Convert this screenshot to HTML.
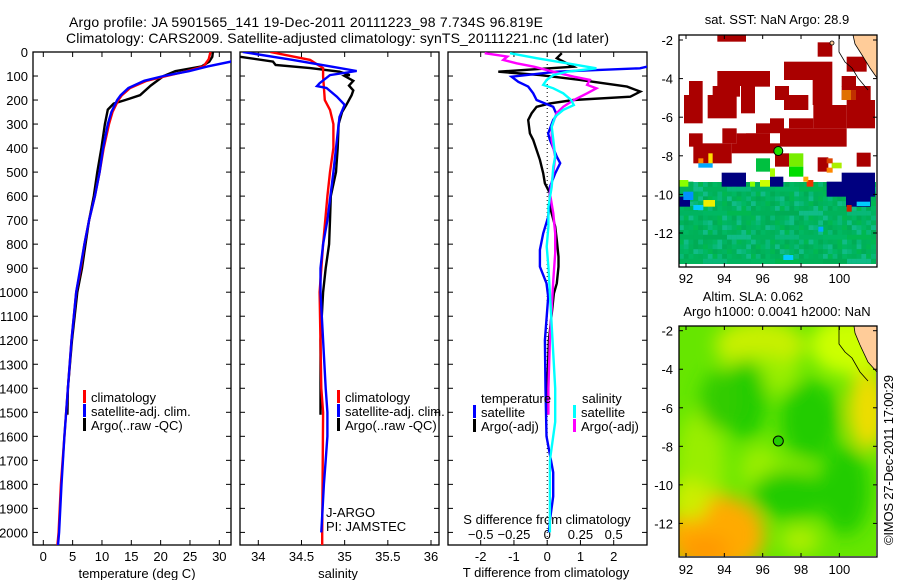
<!DOCTYPE html>
<html><head><meta charset="utf-8"><style>
html,body{margin:0;padding:0;background:#fff}
svg{display:block;font-family:"Liberation Sans",sans-serif}
text{font-size:13px;fill:#000}
</style></head><body>
<svg id="fig" width="900" height="580" viewBox="0 0 900 580" xmlns="http://www.w3.org/2000/svg">
<defs>
<clipPath id="c1"><rect x="33" y="52" width="198" height="493"/></clipPath>
<clipPath id="c2"><rect x="240" y="52" width="199" height="493"/></clipPath>
<clipPath id="c3"><rect x="448" y="52" width="199" height="493"/></clipPath>
<clipPath id="cm2"><rect x="679" y="326" width="197" height="230"/></clipPath>
<filter id="blur" x="-30%" y="-30%" width="160%" height="160%"><feGaussianBlur stdDeviation="9"/></filter>
</defs>
<text x="69" y="27" textLength="474" style="font-size:14px">Argo profile: JA 5901565_141 19-Dec-2011 20111223_98 7.734S 96.819E</text>
<text x="66" y="43" textLength="543" style="font-size:14px">Climatology: CARS2009. Satellite-adjusted climatology: synTS_20111221.nc (1d later)</text>
<g id="g1"></g>
<g id="g2"></g>
<g id="g3"></g>
<g id="gm1"></g>
<g id="gm2"></g>
<text x="0" y="0" transform="translate(893,545) rotate(-90)" textLength="170">©IMOS 27-Dec-2011 17:00:29</text>
</svg>
<script>
// ---- data ----
const depthTicks=[0,100,200,300,400,500,600,700,800,900,1000,1100,1200,1300,1400,1500,1600,1700,1800,1900,2000];
const tempTicks=[0,5,10,15,20,25,30];
const salTicks=[34,34.5,35,35.5,36];
const tdiffTicks=[-2,-1,0,1,2];
const sdiffTicks=[-0.5,-0.25,0,0.25,0.5];
const latTicks=[-2,-4,-6,-8,-10,-12];
const lonTicks=[92,94,96,98,100];

const climTDepth=[0,30,60,80,100,120,150,180,200,250,300,400,500,600,700,800,900,1000,1200,1400,1600,1800,2000,2054];
const climT=[28.5,28.2,27.3,24.5,21,17.6,14.8,13.4,12.8,11.8,11.2,10.3,9.6,8.8,7.8,7.0,6.4,5.6,4.8,4.2,3.6,3.0,2.6,2.4];
const satTDepth=[0,40,60,80,100,120,150,180,200,250,300,400,500,600,700,800,900,1000,1200,1400,1600,1800,2000,2054];
const satT=[33,32,28,24.8,20.5,17.2,14.5,13.2,12.6,11.6,11.0,10.2,9.6,8.8,7.8,7.0,6.3,5.6,4.8,4.2,3.6,3.1,2.7,2.5];
const argoTDepth=[0,20,40,60,80,100,140,180,200,215,240,300,400,500,600,700,800,900,1000,1200,1400,1510];
const argoT=[28.9,28.8,28.3,27,22.5,20.5,18.3,16.5,14,12,11,10.5,9.9,9.2,8.6,7.8,7.2,6.6,5.8,4.9,4.2,4.1];

const climSDepth=[0,33,67,102,200,241,300,400,500,600,800,1000,1400,1500,2000,2054];
const climS=[34.14,34.6,34.75,34.75,34.77,34.83,34.87,34.87,34.83,34.8,34.75,34.71,34.73,34.75,34.74,34.74];
const satSDepth=[0,33,62,79,96,130,142,150,186,220,270,400,500,700,800,900,1000,1400,1500,1600,1700,1800,2000];
const satS=[33.82,34.4,34.87,35.14,34.83,34.71,34.68,34.79,34.91,35.0,34.94,34.9,34.87,34.8,34.75,34.72,34.72,34.78,34.8,34.8,34.78,34.76,34.73];
const argoSDepth=[20,40,54,67,82,96,100,120,140,160,180,200,220,250,300,400,500,600,700,800,900,1000,1200,1400,1510];
const argoS=[33.79,34.17,34.2,34.6,34.94,35.06,35.0,35.1,35.05,35.1,35.08,35.05,35.02,34.97,34.93,34.92,34.9,34.84,34.83,34.82,34.78,34.75,34.72,34.72,34.72];

const satTdDepth=[0,40,61,68,82,103,124,144,172,200,228,262,283,339,366,436,463,505,561,616,686,755,824,894,963,1019,1200,1400,1600,1750,1850,1950,2000];
const satTd=[4,3.8,3.0,2.79,0.29,-1.07,-0.87,-0.57,-0.42,-0.32,0.18,0.29,0.18,0.03,0.08,0.29,0.39,0.24,0.08,0.08,0.03,-0.12,-0.22,-0.22,-0.02,0.03,-0.07,-0.05,-0.02,0.18,0.18,0.08,0.05];
const argoTdDepth=[5,26,47,61,82,96,116,144,165,186,200,214,228,255,283,339,366,408,449,505,547,588,644,727,783,852,894,963,1005,1200,1400,1510];
const argoTd=[0.44,0.29,0.59,0.79,-1.47,-0.22,0.99,2.4,2.8,2.5,0.79,0.08,-0.32,-0.47,-0.57,-0.52,-0.42,-0.32,-0.22,-0.12,-0.07,0.08,0.08,0.24,0.29,0.34,0.34,0.29,0.2,0.05,0.0,0.0];
const satSdDepth=[5,26,47,68,82,96,116,137,151,172,200,221,241,269,311,366,436,477,561,644,727,810,894,1005,1400,1540,1700,2000];
const satSd=[-0.28,-0.08,0.15,0.37,0.15,0.046,-0.004,-0.03,0.046,0.12,0.18,0.2,0.12,0.06,0.034,0.046,0.06,0.046,0.034,0.009,0.009,-0.004,0.009,0.02,0.06,0.06,0.02,0.02];
const argoSdDepth=[5,19,33,47,61,82,103,116,137,151,172,200,228,255,311,366,436,505,588,672,755,838,949,1200,1400,1510];
const argoSd=[-0.47,-0.30,-0.33,-0.23,-0.10,0.046,0.2,0.32,0.30,0.37,0.30,0.2,0.12,0.07,0.034,0.034,0.06,0.046,0.02,0.046,0.06,0.06,0.046,0.02,0.009,0.009];

// ---- scales ----
const yD=d=>52+0.2402*d;
const xT=v=>43.3+5.867*v;
const xS=v=>258.3+86.35*(v-34);
const xTd=v=>547.2+33.25*v;
const xSd=v=>547.2+133*v;
const NS='http://www.w3.org/2000/svg';
function mk(tag,attrs,parent){const e=document.createElementNS(NS,tag);for(const k in attrs)e.setAttribute(k,attrs[k]);parent.appendChild(e);return e;}
function txt(parent,x,y,s,anchor){const t=mk('text',{x:x,y:y,'text-anchor':anchor||'start'},parent);t.textContent=s;return t;}

function frame(g,x0,x1,y0,y1){
  const r=mk('rect',{x:x0,y:y0,width:x1-x0,height:y1-y0,fill:'none',stroke:'#000','stroke-width':1.3},g);
  
  
}
function depthAxis(g,x0,x1,labels){
  depthTicks.forEach(d=>{
    const y=yD(d);
    mk('line',{x1:x0,x2:x0+5,y1:y,y2:y,stroke:'#000'},g);
    mk('line',{x1:x1-5,x2:x1,y1:y,y2:y,stroke:'#000'},g);
    if(labels){const t=txt(g,28,y+5,String(d),'end');
      
      }
  });
}
function xAxis(g,ticks,sc,yLab,fmt){
  ticks.forEach(v=>{
    const x=sc(v);
    mk('line',{x1:x,x2:x,y1:545,y2:540,stroke:'#000'},g);
    mk('line',{x1:x,x2:x,y1:52,y2:57,stroke:'#000'},g);
    const t=txt(g,x,yLab,fmt?fmt(v):String(v),'middle');
    
    
  });
}
function series(g,dep,vals,sc,color,name,clip,w){
  const pts=dep.map((d,i)=>sc(vals[i]).toFixed(1)+','+yD(d).toFixed(1)).join(' ');
  const p=mk('polyline',{points:pts,fill:'none',stroke:color,'stroke-width':w||2.4,'stroke-linejoin':'miter','clip-path':'url(#'+clip+')'},g);
  
  
}
function legend(g,x,y,color,label){
  mk('rect',{x:x,y:y-7,width:3,height:13,fill:color},g);
  const t=txt(g,x+8,y+5,label);
  
  
}

// ---- panel 1 ----
const g1=document.getElementById('g1');
frame(g1,33,231,52,545);depthAxis(g1,33,231,true);
xAxis(g1,tempTicks,xT,561);
let t=txt(g1,137,578,'temperature (deg C)','middle');


series(g1,argoTDepth,argoT,xT,'#000','argo-temperature-line','c1');
series(g1,climTDepth,climT,xT,'#f00','climatology-temperature-line','c1');
series(g1,satTDepth,satT,xT,'#00f','satellite-temperature-line','c1');
legend(g1,83,397,'#f00','climatology');legend(g1,83,411,'#00f','satellite-adj. clim.');legend(g1,83,425,'#000','Argo(..raw -QC)');

// ---- panel 2 ----
const g2=document.getElementById('g2');
frame(g2,240,439,52,545);depthAxis(g2,240,439,false);
xAxis(g2,salTicks,xS,561);
t=txt(g2,338,578,'salinity','middle');


series(g2,argoSDepth,argoS,xS,'#000','argo-salinity-line','c2');
series(g2,climSDepth,climS,xS,'#f00','climatology-salinity-line','c2');
series(g2,satSDepth,satS,xS,'#00f','satellite-salinity-line','c2');
legend(g2,337,397,'#f00','climatology');legend(g2,337,411,'#00f','satellite-adj. clim.');legend(g2,337,425,'#000','Argo(..raw -QC)');
t=txt(g2,326,517,'J-ARGO');
t=txt(g2,326,531,'PI: JAMSTEC');

// ---- panel 3 ----
const g3=document.getElementById('g3');
frame(g3,448,647,52,545);depthAxis(g3,448,647,false);
xAxis(g3,tdiffTicks,xTd,561);
sdiffTicks.forEach(v=>{const tt=txt(g3,xSd(v),539,String(v).replace('-','−'),'middle');
  
  });
t=txt(g3,547,524,'S difference from climatology','middle');
t=txt(g3,546,577,'T difference from climatology','middle');
mk('line',{x1:xTd(0),x2:xTd(0),y1:52,y2:545,stroke:'#000','stroke-dasharray':'1,3'},g3);
series(g3,argoTdDepth,argoTd,xTd,'#000','argo-temp-diff-line','c3');
series(g3,satTdDepth,satTd,xTd,'#00f','satellite-temp-diff-line','c3');
series(g3,argoSdDepth,argoSd,xSd,'#f0f','argo-sal-diff-line','c3');
series(g3,satSdDepth,satSd,xSd,'#0ff','satellite-sal-diff-line','c3');
t=txt(g3,481,403,'temperature');
t=txt(g3,582,403,'salinity');
legend(g3,473,412,'#00f','satellite');legend(g3,473,426,'#000','Argo(-adj)');
legend(g3,573,412,'#0ff','satellite');legend(g3,573,426,'#f0f','Argo(-adj)');

// ---- maps ----
function mapAxes(g,x0,x1,y0,y1,lat2y,lon2x,labY){
  latTicks.forEach(v=>{const y=lat2y(v);
    mk('line',{x1:x0,x2:x0+4,y1:y,y2:y,stroke:'#000'},g);mk('line',{x1:x1-4,x2:x1,y1:y,y2:y,stroke:'#000'},g);
    const tt=txt(g,673,y+5,String(v),'end');
    
    });
  lonTicks.forEach(v=>{const x=lon2x(v);
    mk('line',{x1:x,x2:x,y1:y1,y2:y1-4,stroke:'#000'},g);mk('line',{x1:x,x2:x,y1:y0,y2:y0+4,stroke:'#000'},g);
    const tt=txt(g,x,labY,String(v),'middle');
    
    });
  frame(g,x0,x1,y0,y1);
}
const lon2x=v=>686+19.17*(v-92);
// map1
const gm1=document.getElementById('gm1');
t=txt(gm1,777,24,'sat. SST: NaN Argo: 28.9','middle');
const Z=(zx,zy)=>[640+zx/3,zy/3];
function zr(g,a,b,c,d,col){const p=Z(a,b),q=Z(c,d);mk('rect',{x:p[0],y:p[1],width:q[0]-p[0],height:q[1]-p[1],fill:col},g);}
// green field cells
const pal=['#00b35a','#00b862','#00ac55','#08b878','#00b850','#10bc88','#00b460','#00b158'];
mk('rect',{x:679,y:182,width:197,height:82,fill:'#00b35e'},gm1);
for(let i=0;i<41;i++)for(let j=0;j<17;j++){
  const c=pal[(i*7+j*13+(i*j)%5)%pal.length];
  mk('rect',{x:679+i*4.8,y:182+j*4.8,width:4.9,height:4.9,fill:c},gm1);
}
[[118,545,160,605,'#00b35a'],[118,590,150,620,'#000080'],[245,518,318,560,'#000080'],[605,518,705,560,'#000080'],[560,545,705,590,'#000080'],[618,580,692,620,'#000080'],[390,530,430,560,'#000080'],[130,575,160,600,'#0090ff'],[190,600,225,620,'#eeee00'],[160,615,190,630,'#00ccff'],[650,605,690,618,'#00ccff'],[620,615,635,635,'#cc2200'],[330,545,345,560,'#88ff00'],[360,540,390,560,'#ccff00'],[500,540,520,560,'#ee3300'],[490,530,505,545,'#ffaa00'],[118,540,145,560,'#88ff00'],[535,680,550,695,'#00aaff'],[430,765,460,780,'#00ccff']].forEach(r=>zr(gm1,r[0],r[1],r[2],r[3],r[4]));
// red blocks
const R='#aa0000';
[[232,105,318,125],[533,127,577,170],[620,170,680,215],[432,185,577,240],[518,240,577,315],[232,213,390,258],[218,258,300,290],[147,243,188,285],[132,285,188,370],[203,285,290,355],[303,258,345,340],[345,240,390,260],[405,258,447,300],[432,285,505,330],[605,228,648,260],[605,258,692,300],[620,300,705,385],[520,315,620,385],[348,370,432,400],[390,355,432,372],[447,355,520,385],[420,385,620,440],[247,385,290,430],[290,400,390,440],[147,400,188,440],[160,430,275,490],[275,430,420,460],[405,460,447,500],[650,458,692,500],[533,472,565,515],[318,400,390,430]].forEach(r=>zr(gm1,r[0],r[1],r[2],r[3],R));
zr(gm1,390,400,420,415,'#fff');
zr(gm1,605,270,633,300,'#e07000');zr(gm1,633,270,648,300,'#c03000');
zr(gm1,175,475,190,490,'#ff8800');zr(gm1,205,460,218,490,'#ffdd00');zr(gm1,175,490,218,503,'#00aaff');
[[348,475,390,515,'#00c040'],[447,460,490,500,'#77ee00'],[447,500,490,530,'#00dd00'],[575,488,605,505,'#aaee00'],[560,475,578,490,'#dd4400'],[560,503,578,518,'#ff8800'],[390,505,405,530,'#aaff00']].forEach(r=>zr(gm1,r[0],r[1],r[2],r[3],r[4]));
mk('polygon',{points:'853,35 877,35 877,78 870,68 862,55 855,44',fill:'#ffcc99',stroke:'#000','stroke-width':0.8},gm1);
mk('polyline',{points:'839,35 839,52 845,62 852,68 858,78 868,90',fill:'none',stroke:'#000','stroke-width':0.8},gm1);
mk('circle',{cx:832,cy:43,r:2,fill:'#ffcc99',stroke:'#000','stroke-width':0.8},gm1);
let c=mk('circle',{cx:778.3,cy:151,r:4.5,fill:'#22dd00',stroke:'#000','stroke-width':1},gm1);


mapAxes(gm1,679,877,35,267,v=>40+19.3*(-2-v),lon2x,283);
// map2
const gm2=document.getElementById('gm2');
t=txt(gm2,753,301,'Altim. SLA: 0.062','middle');
t=txt(gm2,777,316,'Argo h1000: 0.0041 h2000: NaN','middle');
const cg=mk('g',{'clip-path':'url(#cm2)'},gm2);
mk('rect',{x:679,y:326,width:198,height:231,fill:'#66e600'},cg);
const bg=mk('g',{filter:'url(#blur)'},cg);
[[760,345,45,25,'#c8f000'],[850,345,40,30,'#ccff00'],[868,410,20,40,'#eedd00'],[760,375,40,20,'#99ee00'],[760,470,20,25,'#99ee00'],[795,490,25,30,'#99ee00'],[700,470,25,60,'#99ee00'],[715,535,50,40,'#ffaa00'],[705,550,25,15,'#ff9900'],[690,500,20,20,'#ccee00'],[840,480,15,15,'#99ee00'],[800,540,20,15,'#aaee00']].forEach(e=>mk('ellipse',{cx:e[0],cy:e[1],rx:e[2],ry:e[3],fill:e[4]},bg));
[[745,400,22,40,'#22cc00'],[810,420,30,40,'#22cc00'],[790,495,40,25,'#22cc00'],[845,490,25,45,'#22cc00'],[720,400,20,30,'#33cc00']].forEach(e=>mk('ellipse',{cx:e[0],cy:e[1],rx:e[2],ry:e[3],fill:e[4]},bg));
mk('polygon',{points:'854,326 877,326 877,372 868,362 860,345 855,333',fill:'#ffcc99',stroke:'#000','stroke-width':0.8},gm2);
mk('polyline',{points:'839,326 839,344 845,352 852,358 860,372 868,381',fill:'none',stroke:'#000','stroke-width':0.8},gm2);
c=mk('circle',{cx:778.3,cy:441,r:5,fill:'#22cc00',stroke:'#000','stroke-width':1},gm2);


mapAxes(gm2,679,877,326,557,v=>330.7+19.27*(-2-v),lon2x,574);
</script>
</body></html>
